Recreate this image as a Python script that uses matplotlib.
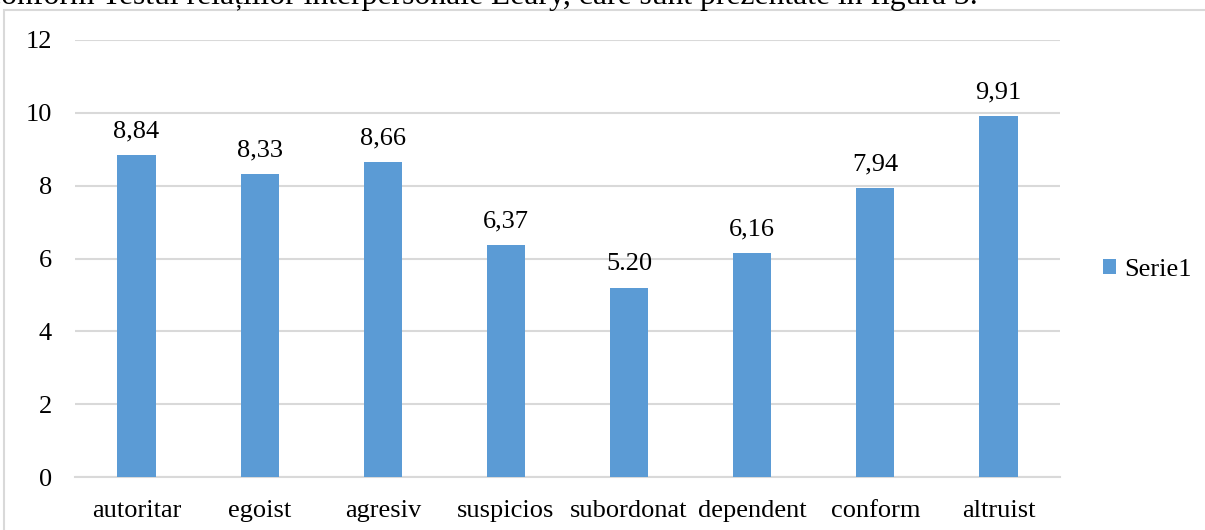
import matplotlib
matplotlib.use("Agg")
import matplotlib.pyplot as plt
from matplotlib.patches import Rectangle

categories = ["autoritar", "egoist", "agresiv", "suspicios", "subordonat",
              "dependent", "conform", "altruist"]
values = [8.84, 8.33, 8.66, 6.37, 5.20, 6.16, 7.94, 9.91]
value_labels = ["8,84", "8,33", "8,66", "6,37", "5.20", "6,16", "7,94", "9,91"]
y_ticks = [0, 2, 4, 6, 8, 10, 12]
series_name = "Serie1"
caption = "conform Testul relațiilor interpersonale Leary, care sunt prezentate în figura 3."

plt.rcParams["font.family"] = ["Liberation Serif", "DejaVu Serif"]

W, H = 1205, 530
fig = plt.figure(figsize=(W / 100, H / 100), dpi=100)

# chart frame, running past the right and bottom edges
fig.patches.append(Rectangle((4 / W, -0.05), 1.1, (H - 10) / H + 0.05,
                             transform=fig.transFigure, fill=False,
                             edgecolor="#d9d9d9", linewidth=1.5))

# paragraph line above the chart
fig.text(-13 / W, 1 - 4 / H, caption, fontsize=22.8, va="baseline", ha="left")

ax = fig.add_axes([75 / W, 1 - 477 / H, (1060 - 75) / W, (477 - 40) / H])
x = list(range(len(categories)))
bars = ax.bar(x, values, width=0.31, color="#5B9BD5", zorder=3, label=series_name)
for b, lab in zip(bars, value_labels):
    ax.annotate(lab, (b.get_x() + b.get_width() / 2, b.get_height()),
                xytext=(0, 12.5), textcoords="offset points",
                ha="center", va="baseline", fontsize=19)

ax.set_xlim(-0.5, len(categories) - 0.5)
ax.set_ylim(0, 12)
ax.set_yticks(y_ticks)
ax.set_yticklabels([str(t) for t in y_ticks])
ax.set_xticks(x)
ax.set_xticklabels(categories)
ax.yaxis.grid(True, color="#d9d9d9", linewidth=1.5, zorder=0)
ax.tick_params(axis="both", length=0, labelsize=19)
ax.tick_params(axis="y", pad=16.5)
ax.tick_params(axis="x", pad=16.5)
for side in ["top", "right", "left"]:
    ax.spines[side].set_visible(False)
ax.spines["bottom"].set_color("#d9d9d9")
ax.spines["bottom"].set_linewidth(1.5)

fig.legend(handles=[bars], labels=[series_name], loc="center left",
           bbox_to_anchor=(1079 / W, 1 - 270 / H), frameon=False,
           fontsize=19, handlelength=0.5, handleheight=0.5, handletextpad=0.3)

fig.savefig("out.png", dpi=100)
